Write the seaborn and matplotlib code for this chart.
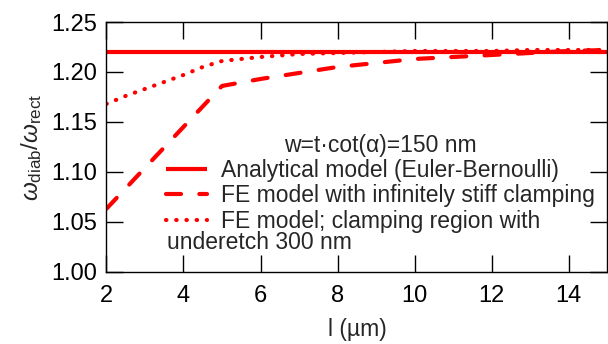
import numpy as np
import pandas as pd
import matplotlib
matplotlib.use("Agg")
import matplotlib.pyplot as plt
import seaborn as sns

# Data
length_um = [2, 3, 4, 5, 6, 7, 8, 9, 10, 11, 12, 13, 14, 15]
analytical = [1.220] * len(length_um)
fe_stiff = [1.063, 1.104, 1.145, 1.186, 1.193, 1.199, 1.205, 1.209, 1.213, 1.215, 1.217, 1.219, 1.221, 1.222]
fe_underetch_x = [2, 2.5, 3, 3.5, 4, 4.5, 5, 6, 7, 8, 9, 10, 11, 12, 13, 14, 15]
fe_underetch = [1.168, 1.176, 1.183, 1.190, 1.197, 1.205, 1.211, 1.215, 1.218, 1.219, 1.220,
                1.221, 1.221, 1.221, 1.222, 1.222, 1.222]

labels = ["Analytical model (Euler-Bernoulli)",
          "FE model with infinitely stiff clamping",
          "FE model; clamping region with"]

sns.set_style("ticks")
plt.rcParams["font.family"] = ["Liberation Sans", "DejaVu Sans"]
plt.rcParams["mathtext.fontset"] = "custom"
plt.rcParams["mathtext.rm"] = "Liberation Sans"
plt.rcParams["mathtext.it"] = "Liberation Sans:italic"

fig, ax = plt.subplots(figsize=(6.08, 3.44), dpi=100)
fig.subplots_adjust(left=0.175, right=0.999, top=0.936, bottom=0.21)

red = "#ff0000"
sns.lineplot(x=length_um, y=analytical, ax=ax, color=red, lw=3, label=labels[0])
sns.lineplot(x=length_um, y=fe_stiff, ax=ax, color=red, lw=3, label=labels[1])
sns.lineplot(x=fe_underetch_x, y=fe_underetch, ax=ax, color=red, lw=3, label=labels[2])

lines = ax.get_lines()
lines[1].set_dashes([3.6, 4.4])
lines[1].set_dash_capstyle("round")
lines[2].set_dashes([0.1, 2.35])
lines[2].set_dash_capstyle("round")
lines[0].set_solid_capstyle("butt")

ax.set_xlim(2, 15)
ax.set_ylim(1.00, 1.25)
ax.set_xticks([2, 4, 6, 8, 10, 12, 14])
ax.set_yticks([1.00, 1.05, 1.10, 1.15, 1.20, 1.25])
ax.set_yticklabels(["1.00", "1.05", "1.10", "1.15", "1.20", "1.25"])
ax.tick_params(direction="in", top=True, right=True, length=12, width=1,
               labelsize=17, colors="black")
ax.tick_params(axis="x", pad=9.5)
ax.tick_params(axis="y", pad=7)
for sp in ax.spines.values():
    sp.set_color("black")
    sp.set_linewidth(1)

ax.set_xlabel("l (µm)", fontsize=16.5, labelpad=8)
ax.set_ylabel(r"$\omega_{\rm diab}/\omega_{\rm rect}$", fontsize=17.5, labelpad=5)

leg = ax.legend(title="w=t·cot(α)=150 nm", loc="upper left",
                bbox_to_anchor=(0.118, 0.553), frameon=False, fontsize=16.5,
                title_fontsize=16.5, handlelength=1.8, handletextpad=0.6,
                labelspacing=0.1, borderpad=0, borderaxespad=0)
ax.text(3.58, 1.029, "underetch 300 nm", fontsize=16.5, va="center", ha="left")

fig.savefig("out.png", dpi=100)
